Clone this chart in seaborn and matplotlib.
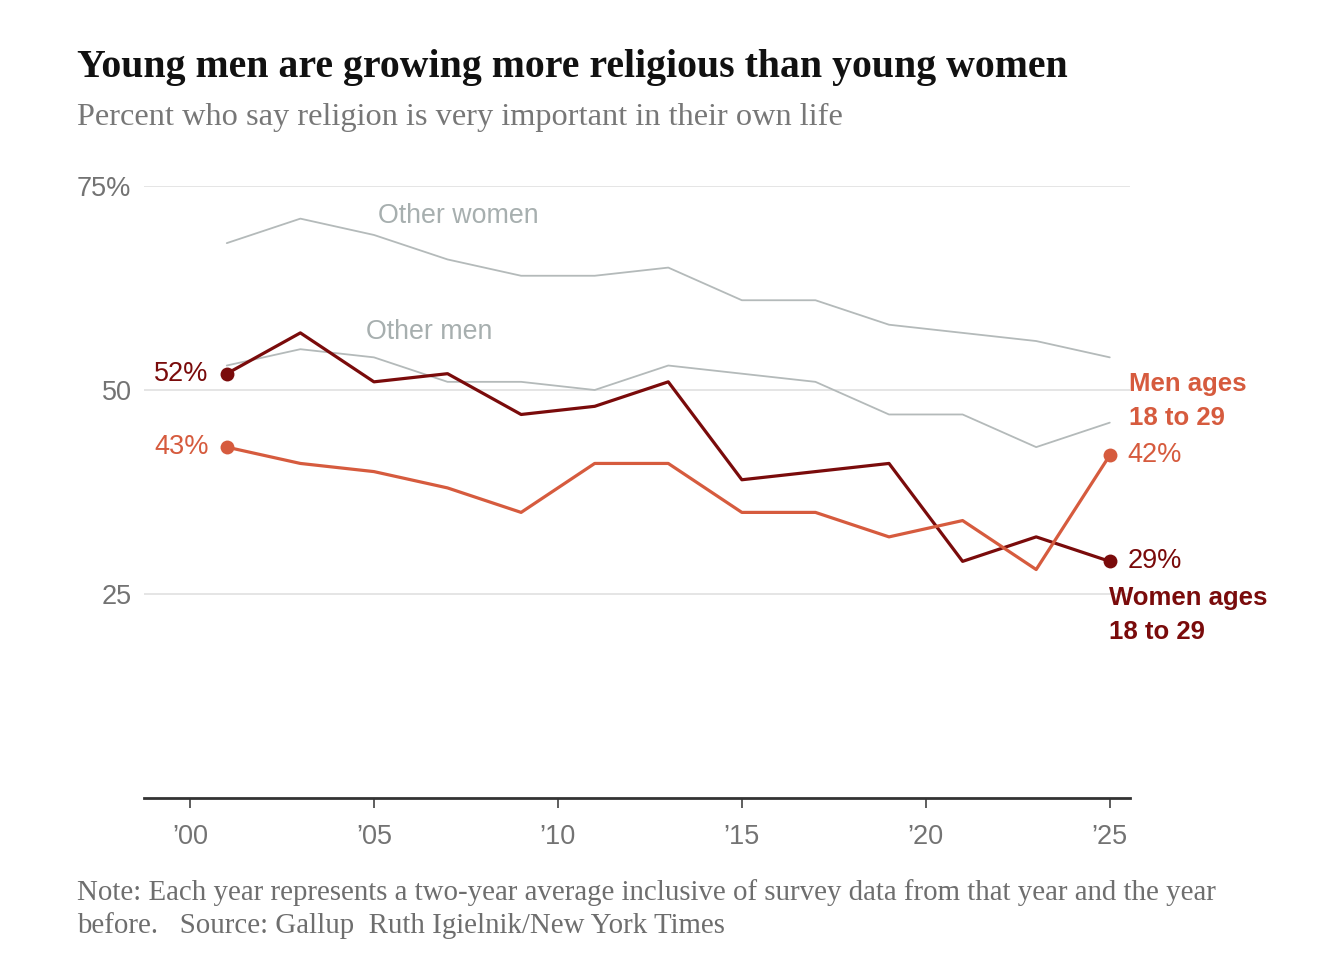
import pandas as pd
import matplotlib
matplotlib.use("Agg")
import matplotlib.pyplot as plt
import seaborn as sns

# ---------- data ----------
years = [2001, 2003, 2005, 2007, 2009, 2011, 2013, 2015, 2017, 2019, 2021, 2023, 2025]
other_women = [68, 71, 69, 66, 64, 64, 65, 61, 61, 58, 57, 56, 54]
other_men = [53, 55, 54, 51, 51, 50, 53, 52, 51, 47, 47, 43, 46]
women_18_29 = [52, 57, 51, 52, 47, 48, 51, 39, 40, 41, 29, 32, 29]
men_18_29 = [43, 41, 40, 38, 35, 41, 41, 35, 35, 32, 34, 28, 42]

x_ticks = [2000, 2005, 2010, 2015, 2020, 2025]
x_labels = ["\u201900", "\u201905", "\u201910", "\u201915", "\u201920", "\u201925"]
y_ticks = [25, 50, 75]
y_labels = ["25", "50", "75%"]

DARK = "#7a0b0b"
ORANGE = "#d65b3e"
GREY_LINE = "#b4baba"
GREY_LABEL = "#a7afaf"
TICK_GREY = "#737373"

sns.set_theme(style="white")
plt.rcParams["font.family"] = ["Liberation Sans", "DejaVu Sans"]

fig = plt.figure(figsize=(13.22, 9.76), dpi=100)
ax = fig.add_axes([144 / 1322, 1 - 798 / 976, (1130 - 144) / 1322, (798 - 186) / 976])

for vals, col, lw, z in [
    (other_women, GREY_LINE, 1.3, 2),
    (other_men, GREY_LINE, 1.3, 2),
    (women_18_29, DARK, 2.3, 3),
    (men_18_29, ORANGE, 2.3, 4),
]:
    sns.lineplot(x=years, y=vals, color=col, linewidth=lw, ax=ax, zorder=z)

# endpoint markers
for vals, col in [(women_18_29, DARK), (men_18_29, ORANGE)]:
    ax.scatter([years[0], years[-1]], [vals[0], vals[-1]], s=100, color=col,
               zorder=5, linewidths=0)

ax.set_xlim(1998.75, 2025.55)
ax.set_ylim(0, 75)
ax.set_xticks(x_ticks)
ax.set_xticklabels(x_labels)
ax.set_yticks(y_ticks)
ax.set_yticklabels(y_labels)
ax.set_xlabel("")
ax.set_ylabel("")

for y in y_ticks:
    ax.axhline(y, color="#dedede", linewidth=1.1, zorder=1)

for s in ["top", "right", "left"]:
    ax.spines[s].set_visible(False)
ax.spines["bottom"].set_color("#333333")
ax.spines["bottom"].set_linewidth(2.0)
ax.spines["bottom"].set_zorder(6)

ax.tick_params(axis="x", direction="out", length=7, width=1.1, color="#333333",
               labelsize=19.5, labelcolor=TICK_GREY, pad=12, bottom=True)
ax.tick_params(axis="y", length=0, labelsize=19.5, labelcolor=TICK_GREY, pad=9)

# series labels
ax.text(2007.28, 71.3, "Other women", color=GREY_LABEL, fontsize=19.3,
        ha="center", va="center")
ax.text(2006.5, 57.1, "Other men", color=GREY_LABEL, fontsize=19.3,
        ha="center", va="center")

ax.text(2000.5, women_18_29[0], f"{women_18_29[0]}%", color=DARK, fontsize=19.5,
        ha="right", va="center")
ax.text(2000.5, men_18_29[0], f"{men_18_29[0]}%", color=ORANGE, fontsize=19.5,
        ha="right", va="center")
ax.text(2025.48, men_18_29[-1], f"{men_18_29[-1]}%", color=ORANGE, fontsize=19.5,
        ha="left", va="center", clip_on=False)
ax.text(2025.48, women_18_29[-1], f"{women_18_29[-1]}%", color=DARK, fontsize=19.5,
        ha="left", va="center", clip_on=False)

fig.text(1129 / 1322, 1 - 384 / 976, "Men ages", color=ORANGE, fontsize=18.5,
         fontweight="bold", ha="left", va="center")
fig.text(1129 / 1322, 1 - 418 / 976, "18 to 29", color=ORANGE, fontsize=18.5,
         fontweight="bold", ha="left", va="center")
fig.text(1109 / 1322, 1 - 598 / 976, "Women ages", color=DARK, fontsize=18.5,
         fontweight="bold", ha="left", va="center")
fig.text(1109 / 1322, 1 - 632 / 976, "18 to 29", color=DARK, fontsize=18.5,
         fontweight="bold", ha="left", va="center")

# titles and note
serif = ["Liberation Serif", "DejaVu Serif"]
fig.text(77 / 1322, 1 - 67 / 976, "Young men are growing more religious than young women",
         family=serif, fontsize=28.6, fontweight="bold", color="#111111",
         ha="left", va="center")
fig.text(77 / 1322, 1 - 117 / 976, "Percent who say religion is very important in their own life",
         family=serif, fontsize=23.3, color="#777777", ha="left", va="center")
fig.text(77 / 1322, 1 - 893 / 976,
         "Note: Each year represents a two-year average inclusive of survey data from that year and the year",
         family=serif, fontsize=20.8, color="#6e6e6e", ha="left", va="center")
fig.text(77 / 1322, 1 - 926 / 976,
         "before.   Source: Gallup  Ruth Igielnik/New York Times",
         family=serif, fontsize=20.8, color="#6e6e6e", ha="left", va="center")

fig.savefig("out.png", dpi=100, facecolor="white")
